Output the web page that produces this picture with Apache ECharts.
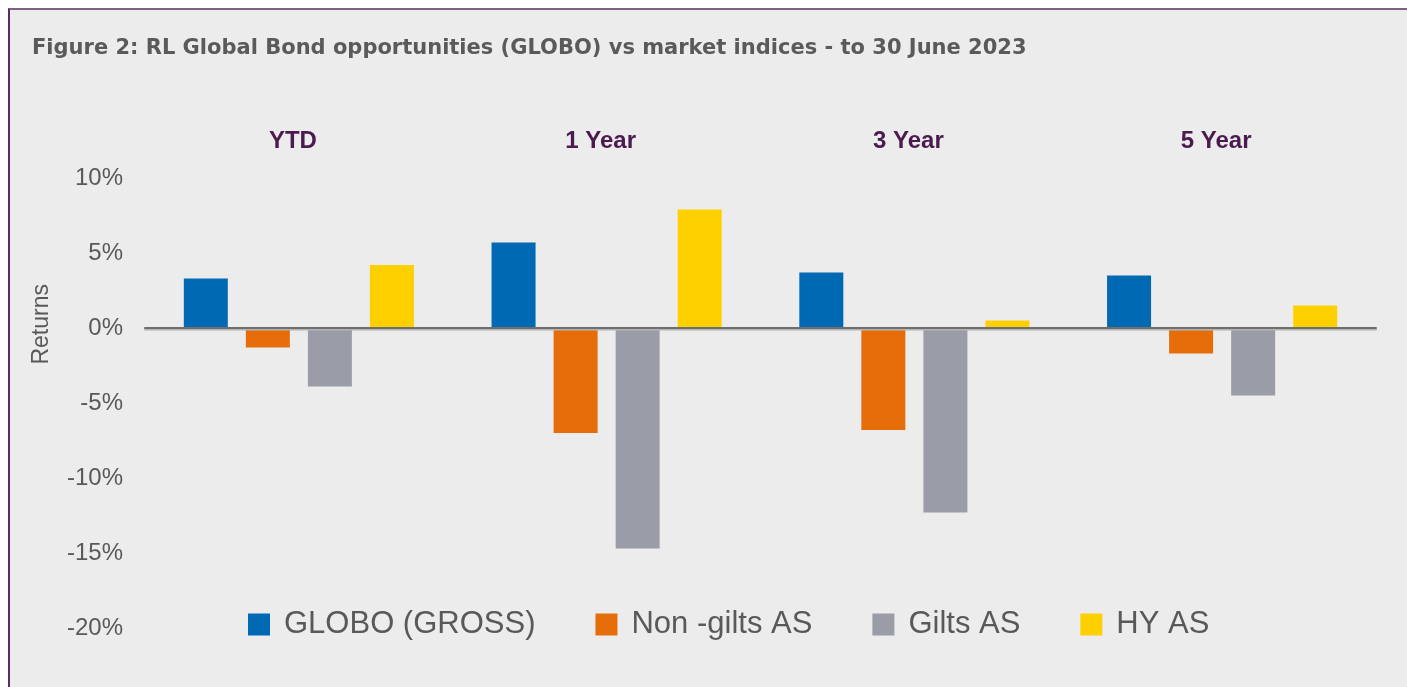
<!DOCTYPE html>
<html>
<head>
<meta charset="utf-8">
<script src="https://cdn.jsdelivr.net/npm/echarts@6/dist/echarts.min.js"></script>
<style>
  html, body { margin: 0; padding: 0; background: #fff; overflow: hidden; }
  .frame {
    position: absolute; left: 8px; top: 8px; width: 1420px; height: 700px;
    background: #ececec;
    border-top: 2px solid #7e6083;
    border-left: 2px solid #5b2c60;
  }
  #chart { position: absolute; left: 0; top: 0; width: 1407px; height: 687px; }
</style>
</head>
<body>
<div class="frame"></div>
<div id="chart"></div>
<script>
const periods = ['YTD', '1 Year', '3 Year', '5 Year']
const yTicks = [-20, -15, -10, -5, 0, 5, 10]

const globo = [3.3, 5.7, 3.7, 3.5]
const nonGilts = [-1.3, -7.0, -6.8, -1.7]
const gilts = [-3.9, -14.7, -12.3, -4.5]
const hy = [4.2, 7.9, 0.5, 1.5]

const seriesDefs = [
  { name: 'GLOBO (GROSS)', data: globo, color: '#0069b4' },
  { name: 'Non -gilts AS', data: nonGilts, color: '#e76d0a' },
  { name: 'Gilts AS', data: gilts, color: '#9a9ca8' },
  { name: 'HY AS', data: hy, color: '#ffd000' },
]

const grey = '#595959'
const chart = echarts.init(document.getElementById('chart'))

chart.setOption({
  animation: false,
  textStyle: { fontFamily: 'Liberation Sans' },
  title: {
    text: 'Figure 2: RL Global Bond opportunities (GLOBO) vs market indices - to 30 June 2023',
    left: 27,
    top: 33,
    textStyle: { fontFamily: 'DejaVu Sans', fontWeight: 'bold', fontSize: 21, color: '#5a5a5a' },
  },
  legend: {
    left: 243,
    top: 604,
    itemWidth: 22,
    itemHeight: 22,
    itemGap: 60,
    icon: 'rect',
    textStyle: { fontSize: 31, color: grey, padding: [0, 0, 0, 9] },
    data: seriesDefs.map((s) => s.name),
  },
  grid: { left: 145, right: 31, top: 178, bottom: 59 },
  xAxis: [
    {
      type: 'category',
      data: periods,
      z: 10,
      axisLine: {
        onZero: true,
        lineStyle: { color: '#6e6e6e', width: 2, shadowColor: '#b4b4b4', shadowOffsetY: 1.5, shadowBlur: 0 },
      },
      axisTick: { show: false },
      axisLabel: { show: false },
    },
    {
      type: 'category',
      data: periods,
      position: 'top',
      axisLine: { show: false },
      axisTick: { show: false },
      axisLabel: {
        margin: 25,
        fontSize: 24,
        fontWeight: 900,
        color: '#4b1a4f',
        padding: [0, 12, 0, 0],
      },
    },
  ],
  yAxis: {
    type: 'value',
    min: yTicks[0],
    max: yTicks[yTicks.length - 1],
    interval: 5,
    axisLine: { show: false },
    axisTick: { show: false },
    splitLine: { show: false },
    axisLabel: { formatter: '{value}%', fontSize: 24, color: grey, margin: 22 },
  },
  graphic: [
    {
      type: 'text',
      left: 30,
      top: 284,
      rotation: Math.PI / 2,
      style: { text: 'Returns', fontSize: 23, fill: grey, fontFamily: 'Liberation Sans' },
    },
  ],
  series: seriesDefs.map((s) => ({
    name: s.name,
    type: 'bar',
    data: s.data,
    barWidth: 44,
    barGap: '41%',
    itemStyle: { color: s.color },
  })),
})
</script>
</body>
</html>
